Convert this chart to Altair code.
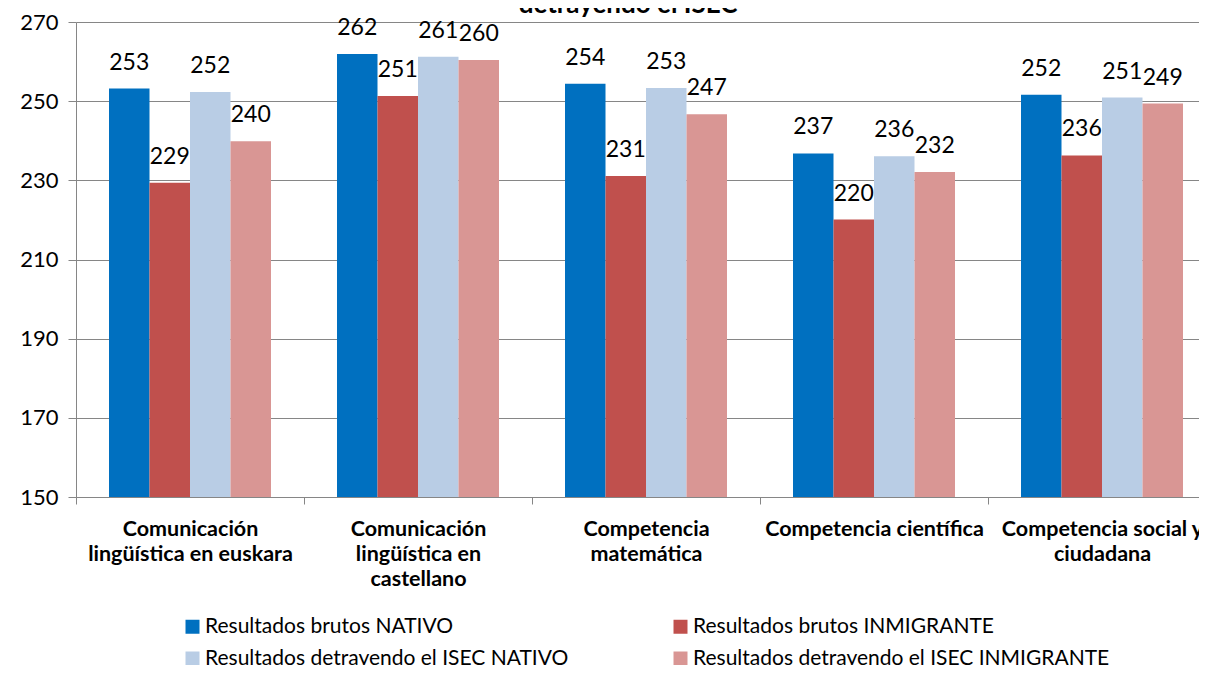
import altair as alt
import pandas as pd

title_text = ["detrayendo el ISEC"]
categories = [
    "Comunicación\nlingüística en euskara",
    "Comunicación\nlingüística en\ncastellano",
    "Competencia\nmatemática",
    "Competencia científica",
    "Competencia social y\nciudadana",
]
series = [
    "Resultados brutos NATIVO",
    "Resultados brutos INMIGRANTE",
    "Resultados detrayendo el ISEC NATIVO",
    "Resultados detrayendo el ISEC INMIGRANTE",
]
colors = ["#0070C0", "#C0504D", "#B9CDE5", "#D99694"]

brutos_nativo = [253.2, 261.9, 254.4, 236.8, 251.6]
brutos_inmigrante = [229.4, 251.3, 231.1, 220.1, 236.3]
isec_nativo = [252.3, 261.2, 253.3, 236.1, 250.9]
isec_inmigrante = [239.9, 260.4, 246.7, 232.1, 249.4]
y_ticks = [150, 170, 190, 210, 230, 250, 270]
y_base = 150

rows = []
for s, vals in zip(series, [brutos_nativo, brutos_inmigrante, isec_nativo, isec_inmigrante]):
    for c, v in zip(categories, vals):
        rows.append({"cat": c, "series": s, "value": v})
df = pd.DataFrame(rows)

FONT = "Lato"

x_enc = alt.X(
    "cat:N",
    sort=categories,
    title=None,
    scale=alt.Scale(paddingInner=0, paddingOuter=0, range=[0, 1140]),
    axis=alt.Axis(
        tickBand="extent",
        labelAngle=0,
        labelExpr="split(datum.label, '\\n')",
        labelFont=FONT,
        labelFontSize=21.5,
        labelFontWeight="bold",
        labelColor="#000000",
        labelLineHeight=25,
        labelPadding=14,
        labelLimit=400,
        domainColor="#868686",
        tickColor="#868686",
        tickSize=7,
        grid=False,
    ),
)
xoff = alt.XOffset(
    "series:N", sort=series, scale=alt.Scale(paddingInner=0, paddingOuter=0.815)
)
y_enc = alt.Y(
    "value:Q",
    title=None,
    scale=alt.Scale(domain=[150, 270], nice=False, zero=False),
    axis=alt.Axis(
        values=y_ticks,
        labelFont=FONT,
        labelFontSize=22,
        labelColor="#000000",
        labelPadding=10,
        tickSize=8,
        tickColor="#868686",
        domainColor="#868686",
        gridColor="#868686",
        grid=True,
    ),
)

bars = alt.Chart(df).mark_bar().encode(
    x=x_enc,
    xOffset=xoff,
    y=y_enc,
    y2=alt.datum(y_base),
    color=alt.Color(
        "series:N",
        sort=series,
        scale=alt.Scale(domain=series, range=colors),
        legend=alt.Legend(
            title=None,
            orient="none",
            direction="horizontal",
            legendX=106,
            legendY=594,
            padding=0,
            columns=2,
            gridAlign="each",
            columnPadding=101,
            rowPadding=10,
            symbolType="square",
            symbolSize=196,
            symbolStrokeWidth=0,
            labelFont=FONT,
            labelFontSize=21,
            labelColor="#000000",
            labelOffset=2,
            labelLimit=600,
        ),
    ),
)

labels = alt.Chart(df).mark_text(
    font=FONT, fontSize=23, color="#000000", baseline="alphabetic", dy=-19
).encode(
    x=alt.X("cat:N", sort=categories),
    xOffset=alt.XOffset("series:N", sort=series),
    y=alt.Y("value:Q"),
    text=alt.Text("value:Q", format=".0f"),
)

title_mark = alt.Chart(pd.DataFrame({"t": title_text})).mark_text(
    font=FONT, fontSize=26, fontWeight="bold", color="#000000",
    baseline="alphabetic", align="center",
).encode(
    x=alt.value(552),
    y=alt.value(-9),
    text="t:N",
)

chart = (
    alt.layer(bars, labels, title_mark)
    .properties(
        width=1123,
        height=475,
        padding={"left": 68, "top": 14, "right": 0, "bottom": 168},
        autosize=alt.AutoSizeParams(type="none"),
    )
    .configure_view(stroke=None)
    .configure_axis(domainWidth=1, gridWidth=1)
)

chart.save("out.html", embed_options={"renderer": "svg", "actions": False})
